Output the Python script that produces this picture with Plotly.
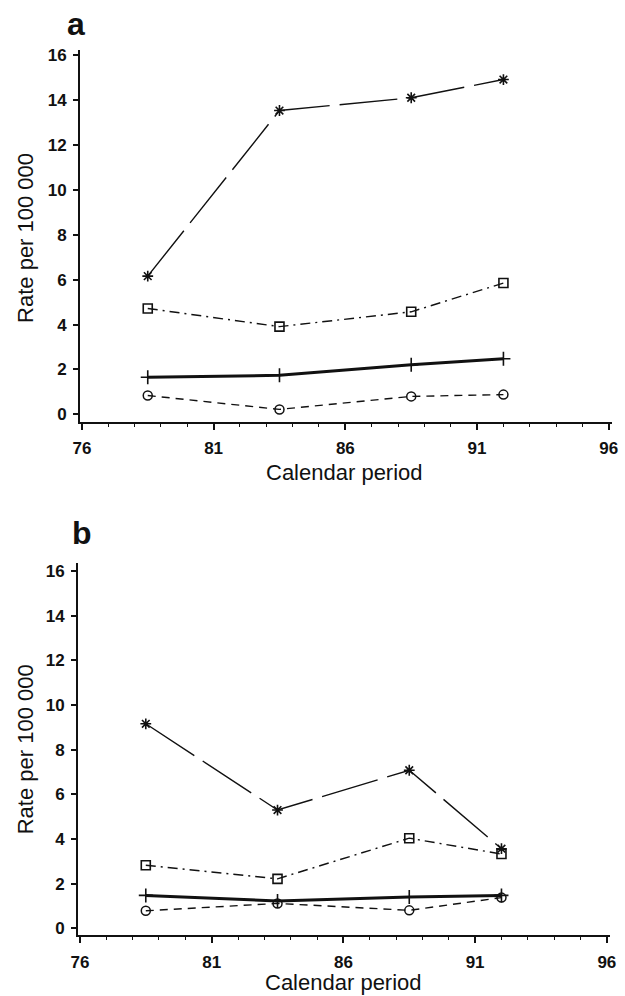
import plotly.graph_objects as go

# Calendar period midpoints
periods = [78.5, 83.5, 88.5, 92.0]

# Panel a: rates per 100 000
a_star = [6.16, 13.54, 14.11, 14.92]
a_square = [4.72, 3.91, 4.57, 5.85]
a_plus = [1.65, 1.74, 2.21, 2.48]
a_circle = [0.84, 0.22, 0.80, 0.88]

# Panel b: rates per 100 000
b_star = [9.16, 5.30, 7.08, 3.57]
b_square = [2.83, 2.22, 4.04, 3.33]
b_plus = [1.48, 1.23, 1.41, 1.48]
b_circle = [0.79, 1.12, 0.81, 1.38]

x_ticks = [76, 81, 86, 91, 96]
y_ticks = [0, 2, 4, 6, 8, 10, 12, 14, 16]

INK = "#111111"

styles = {
    "star": dict(line=dict(color=INK, width=1.4, dash="58px,10px"),
                 marker=dict(symbol="asterisk-open", size=9, color=INK, line=dict(color=INK, width=1.6))),
    "square": dict(line=dict(color=INK, width=1.4, dash="10px,5px,2px,5px"),
                   marker=dict(symbol="square-open", size=9, color=INK, line=dict(color=INK, width=1.6))),
    "plus": dict(line=dict(color=INK, width=3.0, dash="solid"),
                 marker=dict(symbol="cross-thin-open", size=10, color=INK, line=dict(color=INK, width=1.6))),
    "circle": dict(line=dict(color=INK, width=1.4, dash="8px,6px"),
                   marker=dict(symbol="circle-open", size=9, color=INK, line=dict(color=INK, width=1.5))),
}

fig = go.Figure()

panels = [
    ("x", "y", {"star": a_star, "square": a_square, "plus": a_plus, "circle": a_circle}),
    ("x2", "y2", {"star": b_star, "square": b_square, "plus": b_plus, "circle": b_circle}),
]
for xa, ya, series in panels:
    for key in ["circle", "plus", "square", "star"]:
        fig.add_trace(go.Scatter(x=periods, y=series[key], mode="lines+markers",
                                 name=key, xaxis=xa, yaxis=ya,
                                 line=styles[key]["line"], marker=styles[key]["marker"],
                                 showlegend=False, cliponaxis=False))

tickfont = dict(family="Liberation Sans, Arial, sans-serif", size=17, color=INK, weight="bold")

def xaxis(domain, anchor):
    return dict(domain=domain, anchor=anchor, range=[75.93, 96.12], tickvals=x_ticks,
                ticks="outside", ticklen=6, tickwidth=1.5, tickcolor=INK,
                minor=dict(dtick=1, tick0=76, ticks="outside", ticklen=3, tickwidth=1.2, tickcolor=INK),
                showline=True, linewidth=2, linecolor=INK, showgrid=False, zeroline=False,
                tickfont=tickfont, ticklabelstandoff=4)

def yaxis(domain, anchor, rng):
    return dict(domain=domain, anchor=anchor, range=rng, tickvals=y_ticks,
                ticks="outside", ticklen=5, tickwidth=1.5, tickcolor=INK,
                showline=True, linewidth=2, linecolor=INK, showgrid=False, zeroline=False,
                tickfont=tickfont, ticklabelstandoff=3)

fig.update_layout(
    width=625, height=996,
    margin=dict(l=0, r=0, t=0, b=0),
    paper_bgcolor="white", plot_bgcolor="white",
    xaxis=xaxis([0.1179, 0.9885], "y"),
    yaxis=yaxis([0.5776, 0.9531], "x", [-0.33, 16.22]),
    xaxis2=xaxis([0.1147, 0.9853], "y2"),
    yaxis2=yaxis([0.0585, 0.4344], "x2", [-0.3, 16.34]),
)

title_font = dict(family="Liberation Sans, Arial, sans-serif", size=22, color=INK)
label_font = dict(family="Liberation Sans, Arial, sans-serif", size=32, color=INK, weight="bold")

def px_x(p):
    return p / 625

def px_y(p):
    return 1 - p / 996

annotations = [
    dict(text="a", x=px_x(70), y=px_y(20), font=label_font),
    dict(text="b", x=px_x(76), y=px_y(533), font=label_font),
    dict(text="Calendar period", x=px_x(344), y=px_y(472), font=title_font),
    dict(text="Calendar period", x=px_x(343), y=px_y(985), font=title_font),
    dict(text="Rate per 100 000", x=px_x(18), y=px_y(236), font=title_font, textangle=-90),
    dict(text="Rate per 100 000", x=px_x(18), y=px_y(751), font=title_font, textangle=-90),
]
for a in annotations:
    a.update(xref="paper", yref="paper", showarrow=False, xanchor="center", yanchor="middle")
fig.update_layout(annotations=annotations)

fig.write_html("out.html",
               config={"displayModeBar": False},
               post_script="document.body.style.margin='0';document.body.style.padding='0';document.body.style.overflow='hidden';")
